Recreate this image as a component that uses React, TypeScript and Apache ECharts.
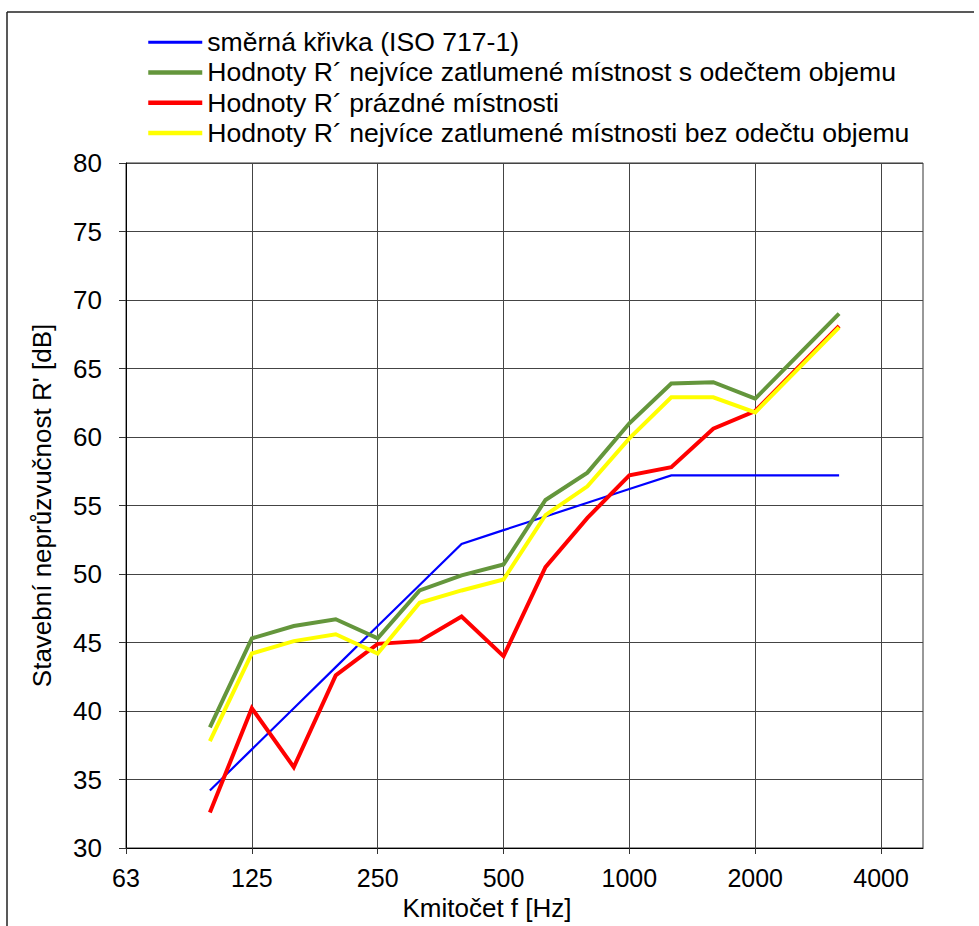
import React, { useEffect, useRef } from "react";
import * as echarts from "echarts";

// Third-octave nominal frequencies spanning the axis (63 Hz .. 5000 Hz)
const axisCategories = [
  "63", "80", "100", "125", "160", "200", "250", "315", "400", "500",
  "630", "800", "1000", "1250", "1600", "2000", "2500", "3150", "4000", "5000",
];
const xTickLabels = ["63", "125", "250", "500", "1000", "2000", "4000"];

// Measured bands
const frequencies = [
  "100", "125", "160", "200", "250", "315", "400", "500",
  "630", "800", "1000", "1250", "1600", "2000", "2500", "3150",
];

const seriesNames = [
  "směrná křivka (ISO 717-1)",
  "Hodnoty R´ nejvíce zatlumené místnost s odečtem objemu",
  "Hodnoty R´ prázdné místnosti",
  "Hodnoty R´ nejvíce zatlumené místnosti bez odečtu objemu",
];
const seriesColors = ["#0000FF", "#64963C", "#FF0000", "#FFFF00"];

const referenceCurve = [34.2, 37.2, 40.2, 43.2, 46.2, 49.2, 52.2, 53.2, 54.2, 55.2, 56.2, 57.2, 57.2, 57.2, 57.2, 57.2];
const dampedWithVolume = [38.8, 45.3, 46.2, 46.7, 45.3, 48.8, 49.9, 50.7, 55.4, 57.4, 61.0, 63.9, 64.0, 62.8, 65.9, 69.0];
const emptyRoom = [32.6, 40.2, 35.9, 42.6, 44.9, 45.1, 46.9, 44.0, 50.5, 54.1, 57.2, 57.8, 60.6, 61.9, 65.0, 68.1];
const dampedWithoutVolume = [37.8, 44.2, 45.1, 45.6, 44.2, 47.9, 48.8, 49.6, 54.3, 56.4, 59.9, 62.9, 62.9, 61.8, 64.9, 68.0];

const FONT = "'Liberation Sans', Arial, sans-serif";

export default function App() {
  const ref = useRef<HTMLDivElement>(null);

  useEffect(() => {
    if (!ref.current) return;
    const chart = echarts.init(ref.current, null, { renderer: "svg" });

    const pairs = (vals: number[]) => frequencies.map((f, i) => [f, vals[i]]);

    const mk = (name: string, vals: number[], color: string, width: number) => ({
      name,
      type: "line",
      data: pairs(vals),
      symbol: "none",
      showSymbol: false,
      lineStyle: { color, width, join: "miter" },
      itemStyle: { color },
      emphasis: { disabled: true },
    });

    const legendWidths = [3, 4.5, 4.5, 4.5];

    chart.setOption({
      animation: false,
      backgroundColor: "#ffffff",
      textStyle: { fontFamily: FONT },
      graphic: [
        { type: "line", shape: { x1: 7, y1: 12, x2: 974, y2: 12 }, style: { stroke: "#222", lineWidth: 1.5 } },
        { type: "line", shape: { x1: 7, y1: 12, x2: 7, y2: 926 }, style: { stroke: "#222", lineWidth: 1.5 } },
      ],
      legend: {
        orient: "vertical",
        left: 146,
        top: 27,
        padding: 0,
        itemWidth: 54,
        itemHeight: 14,
        itemGap: 0,
        data: seriesNames.map((n, i) => ({
          name: n,
          lineStyle: { width: legendWidths[i], color: seriesColors[i] },
        })),
        itemStyle: { opacity: 0 },
        textStyle: { fontSize: 26.6, color: "#000", fontFamily: FONT, lineHeight: 30.3 },
      },
      grid: {
        left: 126,
        top: 163,
        right: 56,
        bottom: 78,
        show: true,
        borderColor: "#333",
        borderWidth: 1,
        containLabel: false,
      },
      xAxis: {
        type: "category",
        data: axisCategories,
        boundaryGap: false,
        name: "Kmitočet f [Hz]",
        nameLocation: "middle",
        nameGap: 44,
        nameTextStyle: { fontSize: 26, color: "#000", fontFamily: FONT, padding: [0, 75, 0, 0] },
        axisLine: { show: true, lineStyle: { color: "#000", width: 1 } },
        axisTick: { show: true, interval: 2, length: 6, inside: false, lineStyle: { color: "#333" } },
        axisLabel: {
          interval: 2,
          margin: 17,
          fontSize: 25,
          color: "#000",
          fontFamily: FONT,
          formatter: (v: string) => (xTickLabels.includes(v) ? v : ""),
        },
        splitLine: { show: true, interval: 2, lineStyle: { color: "#444", width: 1 } },
      },
      yAxis: {
        type: "value",
        min: 30,
        max: 80,
        interval: 5,
        name: "Stavební neprůzvučnost R' [dB]",
        nameLocation: "middle",
        nameGap: 71,
        nameTextStyle: { fontSize: 26, color: "#000", fontFamily: FONT },
        axisLine: { show: true, lineStyle: { color: "#000", width: 1 } },
        axisTick: { show: true, length: 7, inside: false, lineStyle: { color: "#333" } },
        axisLabel: { margin: 24, fontSize: 26, color: "#000", fontFamily: FONT },
        splitLine: { show: true, lineStyle: { color: "#444", width: 1 } },
      },
      series: [
        mk(seriesNames[0], referenceCurve, seriesColors[0], 2.2),
        mk(seriesNames[1], dampedWithVolume, seriesColors[1], 4),
        mk(seriesNames[2], emptyRoom, seriesColors[2], 4),
        mk(seriesNames[3], dampedWithoutVolume, seriesColors[3], 4),
      ],
    });

    return () => chart.dispose();
  }, []);

  return (
    <div
      ref={ref}
      style={{ position: "absolute", left: 0, top: 0, width: 979, height: 926, background: "#fff" }}
    />
  );
}
